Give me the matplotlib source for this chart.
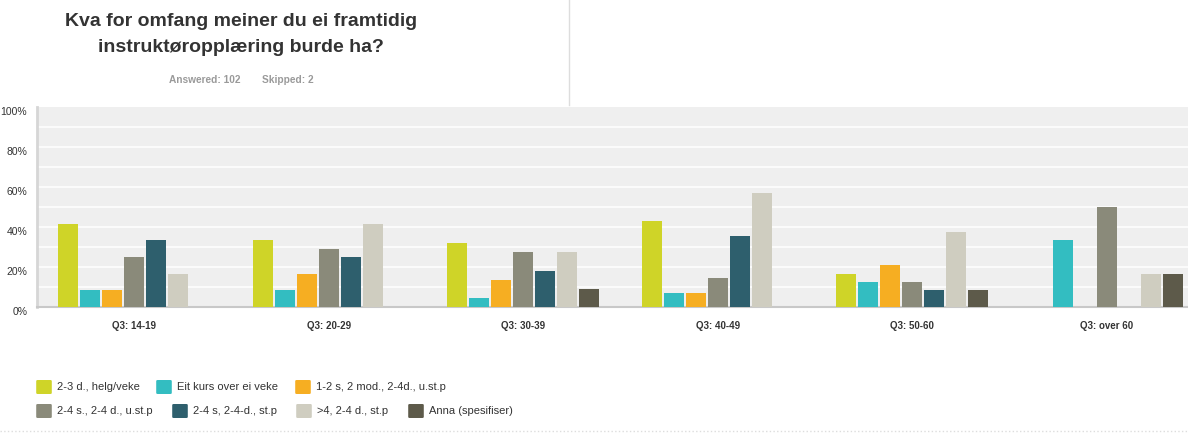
import matplotlib.pyplot as plt
import matplotlib.patches as patches
import numpy as np

plt.rcParams['font.family'] = ['Liberation Sans', 'DejaVu Sans']

# data (percent of respondents per age group)
groups = ["Q3: 14-19", "Q3: 20-29", "Q3: 30-39", "Q3: 40-49", "Q3: 50-60", "Q3: over 60"]
series_names = ["2-3 d., helg/veke", "Eit kurs over ei veke", "1-2 s, 2 mod., 2-4d., u.st.p",
                "2-4 s., 2-4 d., u.st.p", "2-4 s, 2-4-d., st.p", ">4, 2-4 d., st.p",
                "Anna (spesifiser)"]
helg_veke = [41.7, 33.3, 31.8, 42.9, 16.7, 0]
eit_kurs = [8.3, 8.3, 4.5, 7.1, 12.5, 33.3]
mod_ustp = [8.3, 16.7, 13.6, 7.1, 20.8, 0]
s24_ustp = [25.0, 29.2, 27.3, 14.3, 12.5, 50.0]
s24_stp = [33.3, 25.0, 18.2, 35.7, 8.3, 0]
over4_stp = [16.7, 41.7, 27.3, 57.1, 37.5, 16.7]
anna = [0, 0, 9.1, 0, 8.3, 16.7]
series = [helg_veke, eit_kurs, mod_ustp, s24_ustp, s24_stp, over4_stp, anna]
colors = ["#cfd428", "#33bdc1", "#f6ae22", "#8a8a7a", "#2e5f6d", "#cfcdc0", "#5d5a4a"]

W, H = 1188, 433
fig = plt.figure(figsize=(W / 100, H / 100), dpi=100)

# plot area in pixel coords (right edge runs past the picture, like the source)
left, right, top, bottom = 37, 1204, 107, 307
ax = fig.add_axes([left / W, 1 - bottom / H, (right - left) / W, (bottom - top) / H])
ax.set_facecolor("#efefef")

x = np.arange(len(groups))
step = 22 / 194.6
width = 20 / 194.6
for i, (vals, c) in enumerate(zip(series, colors)):
    ax.bar(x + (i - 3) * step, vals, width=width, color=c, zorder=3)

ax.set_xlim(-0.5, len(groups) - 0.5)
ax.set_ylim(0, 100)
for v in range(10, 100, 10):
    ax.axhline(v, color="white", lw=1.1, zorder=1)

for s in ["top", "right"]:
    ax.spines[s].set_visible(False)
ax.spines["left"].set_color("#d6d6d6")
ax.spines["left"].set_linewidth(2)
ax.spines["bottom"].set_color("#c8c8c8")
ax.spines["bottom"].set_linewidth(1.5)

ax.set_yticks(range(0, 101, 20))
ax.set_yticklabels([f"{v}%" for v in range(0, 101, 20)])
ax.tick_params(axis="y", length=0, pad=7, labelsize=7.5, labelcolor="#333333")
for t in ax.get_yticklabels():
    t.set_va("top")
ax.set_xticks(x)
ax.set_xticklabels(groups, fontweight="bold")
ax.tick_params(axis="x", length=0, pad=10, labelsize=7, labelcolor="#333333")

# title block
fig.text(241 / W, 1 - 22 / H, "Kva for omfang meiner du ei framtidig", ha="center", va="center",
         fontsize=14, fontweight="bold", color="#333333")
fig.text(241 / W, 1 - 47 / H, "instruktøropplæring burde ha?", ha="center", va="center",
         fontsize=14, fontweight="bold", color="#333333")
fig.text(205 / W, 1 - 80 / H, "Answered: 102", ha="center", va="center",
         fontsize=7.3, fontweight="bold", color="#9a9a9a")
fig.text(288 / W, 1 - 80 / H, "Skipped: 2", ha="center", va="center",
         fontsize=7.3, fontweight="bold", color="#9a9a9a")
fig.add_artist(plt.Line2D([569 / W, 569 / W], [1 - 105 / H, 1], color="#dddddd", lw=1))

# legend drawn by hand
legend_pos = [(37, 387), (157, 387), (296, 387), (37, 411), (173, 411), (297, 411), (409, 411)]
for (lx, ly), name, c in zip(legend_pos, series_names, colors):
    box = patches.FancyBboxPatch(((lx + 1) / W, 1 - (ly + 6) / H), 12 / W, 12 / H,
                                 boxstyle="round,pad=0.001", transform=fig.transFigure,
                                 facecolor=c, edgecolor=c, lw=0.8)
    fig.add_artist(box)
    fig.text((lx + 20) / W, 1 - ly / H, name, ha="left", va="center", fontsize=8, color="#333333")

fig.add_artist(plt.Line2D([0, 1], [1 - 431 / H, 1 - 431 / H], color="#dddddd", lw=1, ls=":"))

fig.savefig("out.png", dpi=100)
